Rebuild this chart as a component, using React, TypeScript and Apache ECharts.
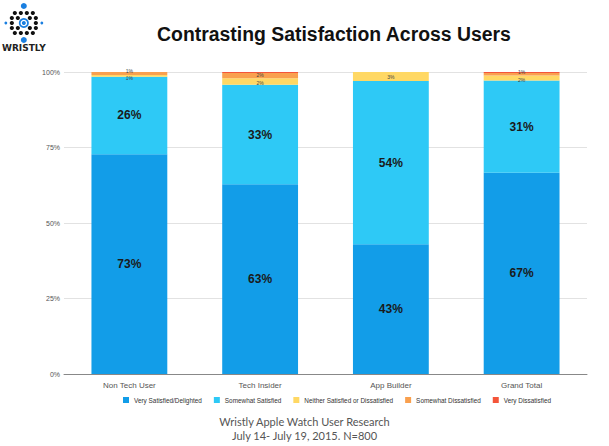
import React, { useEffect, useRef } from "react";
import * as echarts from "echarts";

const categories = ["Non Tech User", "Tech Insider", "App Builder", "Grand Total"];
const seriesNames = [
  "Very Satisfied/Delighted",
  "Somewhat Satisfied",
  "Neither Satisfied or Dissatisfied",
  "Somewhat Dissatisfied",
  "Very Dissatisfied",
];
const verySatisfied = [72.8, 62.8, 43, 66.6];
const somewhatSatisfied = [25.6, 33, 54, 30.6];
const neither = [0.6, 2.1, 3, 1.6];
const somewhatDissatisfied = [1.0, 1.8, 0, 0.9];
const veryDissatisfied = [0, 0.3, 0, 0.3];
const yTicks = ["0%", "25%", "50%", "75%", "100%"];
const colors = ["#129de8", "#2ec9f6", "#ffd864", "#f9a04f", "#f4553a"];
// small label offsets to keep crowded top labels readable
const smallOffsets: Record<number, number[][]> = {
  2: [[0, 2.5], [0, 1], [0, 0], [0, 2]],
  3: [[0, -2.5], [0, -1], [0, 0], [0, -2.5]],
};

export default function App() {
  const ref = useRef<HTMLDivElement>(null);
  useEffect(() => {
    const chart = echarts.init(ref.current!, undefined, { renderer: "svg" });
    const values = [verySatisfied, somewhatSatisfied, neither, somewhatDissatisfied, veryDissatisfied];
    const bigLabel = {
      show: true,
      position: "inside",
      color: "#1a1a1a",
      fontWeight: "bold",
      fontSize: 12,
      fontFamily: "Liberation Sans, Arial, sans-serif",
      formatter: (p: any) => Math.round(p.value) + "%",
    };
    const smallLabel = {
      show: true,
      position: "inside",
      color: "#444",
      fontSize: 5,
      fontFamily: "Liberation Sans, Arial, sans-serif",
      formatter: (p: any) => (p.value > 0.5 ? Math.round(p.value) + "%" : ""),
    };
    const series = values.map((v, i) => ({
      name: seriesNames[i],
      type: "bar",
      stack: "total",
      barWidth: "58%",
      data: v.map((val, j) =>
        smallOffsets[i] ? { value: val, label: { offset: smallOffsets[i][j] } } : val
      ),
      itemStyle: { color: colors[i] },
      label: i < 2 ? bigLabel : smallLabel,
    }));

    const logoDots: any[] = [];
    const black = (x: number, y: number) =>
      logoDots.push({ type: "circle", shape: { cx: x, cy: y, r: 2.1 }, style: { fill: "#111" } });
    const blue = (x: number, y: number, r: number) =>
      logoDots.push({ type: "circle", shape: { cx: x, cy: y, r }, style: { fill: "#1a7fe0" } });
    blue(24, 8, 3);
    [15, 21, 27, 33].forEach((x) => black(x, 15));
    [12, 18, 30, 36].forEach((x) => black(x, 20));
    blue(6, 25, 1.4);
    blue(42, 25, 1.4);
    [12, 36].forEach((x) => black(x, 25));
    [12, 18, 30, 36].forEach((x) => black(x, 30));
    [15, 21, 27, 33].forEach((x) => black(x, 35));
    blue(24, 42, 3);
    logoDots.push({ type: "circle", shape: { cx: 24, cy: 25, r: 5 }, style: { fill: "#1a7fe0" } });
    logoDots.push({ type: "circle", shape: { cx: 24, cy: 25, r: 3.3 }, style: { fill: "#fff" } });
    logoDots.push({ type: "circle", shape: { cx: 24, cy: 25, r: 2 }, style: { fill: "#1a7fe0" } });
    logoDots.push({
      type: "text",
      style: {
        x: 24,
        y: 50,
        text: "WRISTLY",
        fill: "#222",
        font: "bold 9px 'DejaVu Sans', sans-serif",
        textAlign: "center",
        textVerticalAlign: "middle",
      },
    });

    chart.setOption({
      animation: false,
      backgroundColor: "#fff",
      title: {
        text: "Contrasting Satisfaction Across Users",
        left: 329,
        top: 19,
        textAlign: "center",
        textStyle: {
          fontSize: 19.4,
          fontWeight: "bold",
          color: "#111",
          fontFamily: "Liberation Sans, Arial, sans-serif",
        },
      },
      legend: {
        data: seriesNames,
        bottom: 38,
        left: 118,
        itemWidth: 6,
        itemHeight: 6,
        itemGap: 12,
        icon: "rect",
        textStyle: { fontSize: 6.4, color: "#333", fontFamily: "Liberation Sans, Arial, sans-serif" },
      },
      grid: { left: 64, right: 22, top: 72, bottom: 72, containLabel: false },
      xAxis: {
        type: "category",
        data: categories,
        axisLine: { lineStyle: { color: "#888" } },
        axisTick: { show: false },
        axisLabel: { fontSize: 8, color: "#555", margin: 7, fontFamily: "Liberation Sans, Arial, sans-serif" },
      },
      yAxis: {
        type: "value",
        min: 0,
        max: 100,
        interval: 25,
        axisLine: { show: false },
        axisTick: { show: false },
        splitLine: { lineStyle: { color: "#e2e2e2" } },
        axisLabel: {
          fontSize: 7,
          color: "#555",
          margin: 4,
          fontFamily: "Liberation Sans, Arial, sans-serif",
          formatter: (v: number) => yTicks[Math.round(v / 25)],
        },
      },
      graphic: [
        { type: "group", left: 2, top: 3, children: logoDots },
        {
          type: "text",
          left: "center",
          top: 414,
          style: {
            text: "Wristly Apple Watch User Research\nJuly 14- July 19, 2015. N=800",
            fill: "#555",
            font: "11px Lato, 'Open Sans', sans-serif",
            textAlign: "center",
            lineHeight: 14,
          },
        },
      ],
      series,
    });
    return () => chart.dispose();
  }, []);
  return <div ref={ref} style={{ position: "fixed", left: 0, top: 0, width: 609, height: 446 }} />;
}
